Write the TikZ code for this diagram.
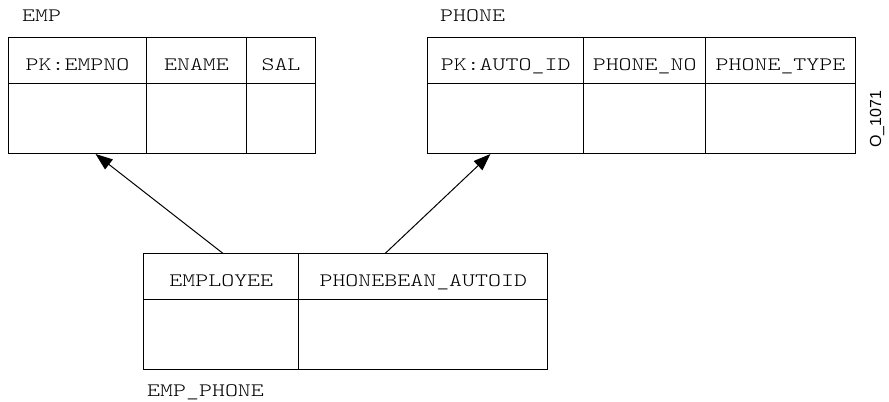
\documentclass[tikz,border=0pt]{standalone}
\usepackage{fontspec}
\setmonofont[FakeStretch=1.3]{Latin Modern Mono Light}
\newfontfamily\labelsans{Liberation Sans}
\usetikzlibrary{arrows.meta,calc}

\tikzset{
  cell/.style={draw, line width=1bp, rectangle, inner sep=0pt, anchor=north west,
               font=\fontsize{19bp}{22bp}\ttfamily},
  headcell/.style={cell, text height=20bp, text depth=0bp},
  tabletitle/.style={inner sep=0pt, anchor=base west, font=\fontsize{19bp}{22bp}\ttfamily},
  fk/.style={line width=1bp, -{Triangle[length=17bp,width=12.5bp]}}
}

\begin{document}
\begin{tikzpicture}[x=1bp,y=-1bp]
\useasboundingbox (0,0) rectangle (889,401);

% EMP table
\node[tabletitle] (empT) at (22,21.5) {EMP};
\node[headcell, minimum width=138bp, minimum height=46bp] (empH1) at (8,37) {PK:EMPNO};
\node[headcell, minimum width=100bp, minimum height=46bp] (empH2) at (146,37) {ENAME};
\node[headcell, minimum width=69bp,  minimum height=46bp] (empH3) at (246,37) {SAL};
\node[cell, minimum width=138bp, minimum height=70bp] (empB1) at (8,83) {};
\node[cell, minimum width=100bp, minimum height=70bp] (empB2) at (146,83) {};
\node[cell, minimum width=69bp,  minimum height=70bp] (empB3) at (246,83) {};

% PHONE table
\node[tabletitle] (phT) at (440,21.5) {PHONE};
\node[headcell, minimum width=156.3bp, minimum height=46bp] (phH1) at (427,37) {PK:AUTO\_ID};
\node[headcell, minimum width=121.7bp, minimum height=46bp] (phH2) at (583.3,37) {PHONE\_NO};
\node[headcell, minimum width=150bp,   minimum height=46bp] (phH3) at (705,37) {PHONE\_TYPE};
\node[cell, minimum width=156.3bp, minimum height=70bp] (phB1) at (427,83) {};
\node[cell, minimum width=121.7bp, minimum height=70bp] (phB2) at (583.3,83) {};
\node[cell, minimum width=150bp,   minimum height=70bp] (phB3) at (705,83) {};

% EMP_PHONE join table
\node[headcell, minimum width=155bp, minimum height=45.7bp] (epH1) at (143.3,253.3) {EMPLOYEE};
\node[headcell, minimum width=249bp, minimum height=45.7bp] (epH2) at (298.3,253.3) {PHONEBEAN\_AUTOID};
\node[cell, minimum width=155bp, minimum height=70bp] (epB1) at (143.3,299) {};
\node[cell, minimum width=249bp, minimum height=70bp] (epB2) at (298.3,299) {};
\node[tabletitle] (epT) at (147,396) {EMP\_PHONE};

% foreign keys
\draw[fk] ($(epH1.north west)!0.51!(epH1.north east)$) -- ($(empB1.south west)!0.63!(empB1.south east)$);
\draw[fk] ($(epH2.north west)!0.348!(epH2.north east)$) -- ($(phB1.south west)!0.403!(phB1.south east)$);

% figure id
\node[inner sep=0pt, rotate=90, font=\fontsize{16bp}{18bp}\labelsans] (figid) at (877,119) {O\_1071};
\end{tikzpicture}
\end{document}
